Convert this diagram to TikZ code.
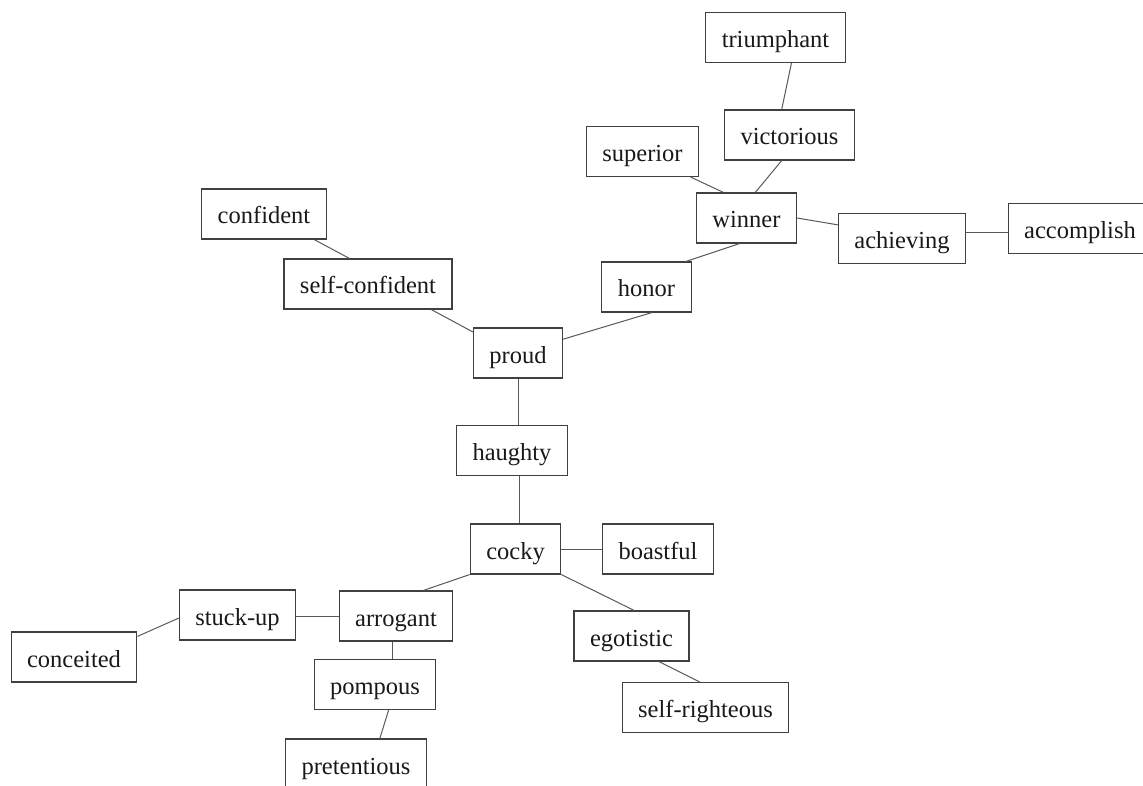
\documentclass[tikz,border=0pt]{standalone}
\usepackage{fontspec}
\setmainfont{Liberation Serif}

\begin{document}
\begin{tikzpicture}[x=1pt, y=-1pt,
    word/.style={draw=black!75, line width=1.1pt, rectangle, minimum height=50pt,
                 inner xsep=16pt, text height=20pt, text depth=0pt,
                 font=\fontsize{24.5}{29}\selectfont, text=black!90},
    link/.style={draw=black!65, line width=1pt}]
  \useasboundingbox (0,0) rectangle (1143,786);

  \node[word] (triumphant) at (775.5,37.5) {triumphant};
  \node[word] (victorious) at (789.5,135)  {victorious};
  \node[word] (superior)   at (642.5,151.5) {superior};
  \node[word] (winner)     at (746.5,218)  {winner};
  \node[word] (achieving)  at (902,238.5)  {achieving};
  \node[word] (accomplish) at (1080,228.5) {accomplish};
  \node[word] (honor)      at (646.5,287)  {honor};
  \node[word] (confident)  at (264,214)    {confident};
  \node[word] (selfconf)   at (368,284)    {self-confident};
  \node[word] (proud)      at (518,353)    {proud};
  \node[word] (haughty)    at (512,450.5)  {haughty};
  \node[word] (cocky)      at (515.5,549)  {cocky};
  \node[word] (boastful)   at (658,549)    {boastful};
  \node[word] (arrogant)   at (396,616)    {arrogant};
  \node[word] (stuckup)    at (237.5,615)  {stuck-up};
  \node[word] (conceited)  at (74,657)     {conceited};
  \node[word] (pompous)    at (375,684.5)  {pompous};
  \node[word] (pretentious) at (356,764)   {pretentious};
  \node[word] (egotistic)  at (631.5,636)  {egotistic};
  \node[word] (selfright)  at (705.5,707.5) {self-righteous};

  % upper branch
  \draw[link] (triumphant.-58) -- (victorious.107);
  \draw[link] (victorious.-107) -- (winner.71);
  \draw[link] (superior.-28) -- (winner.132);
  \draw[link] (winner.east) -- (achieving.168);
  \draw[link] (achieving.5) -- (achieving.5 -| accomplish.west);
  \draw[link] (winner.-105) -- (honor.33);
  \draw[link] (honor.-78) -- (proud.17);
  \draw[link] (proud.155) -- (selfconf.-22);
  \draw[link] (selfconf.126) -- (confident.-27);

  % trunk
  \draw[link] (proud.south) -- (proud.south |- haughty.north);
  \draw[link] (haughty.-74) -- (haughty.-74 |- cocky.north);

  % lower branch
  \draw[link] (cocky.east) -- (boastful.west);
  \draw[link] (cocky.south west) -- (arrogant.43);
  \draw[link] (cocky.south east) -- (egotistic.84);
  \draw[link] (egotistic.-43) -- (selfright.103);
  \draw[link] (arrogant.west) -- (arrogant.west -| stuckup.east);
  \draw[link] (stuckup.183) -- (conceited.18);
  \draw[link] (arrogant.-97) -- (arrogant.-97 |- pompous.north);
  \draw[link] (pompous.-62) -- (pretentious.47);
\end{tikzpicture}
\end{document}
